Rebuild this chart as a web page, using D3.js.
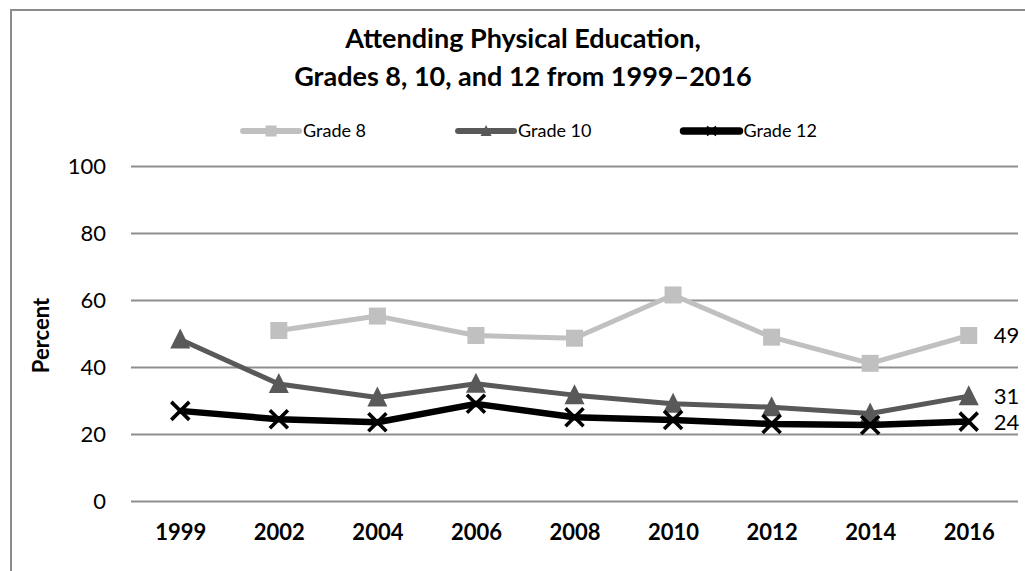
<!DOCTYPE html>
<html>
<head>
<meta charset="utf-8">
<script src="https://cdn.jsdelivr.net/npm/d3@7"></script>
<style>
  html, body { margin: 0; padding: 0; background: #fff; }
  svg { display: block; }
  text { font-family: Lato, "Open Sans", sans-serif; }
</style>
</head>
<body>
<svg id="chart" width="1025" height="571"></svg>
<script>
// ---- data ----
const years = ["1999", "2002", "2004", "2006", "2008", "2010", "2012", "2014", "2016"];
const grade8  = [null, 50.9, 55.2, 49.4, 48.6, 61.5, 48.9, 41.1, 49.4];
const grade10 = [48.2, 34.9, 30.9, 35.0, 31.6, 29.0, 28.0, 26.1, 31.3];
const grade12 = [26.9, 24.4, 23.5, 29.0, 25.0, 24.2, 23.0, 22.7, 23.7];
const seriesNames = ["Grade 8", "Grade 10", "Grade 12"];
const yTicks = [0, 20, 40, 60, 80, 100];
const titleLines = ["Attending Physical Education,", "Grades 8, 10, and 12 from 1999\u20132016"];
const yAxisTitle = "Percent";

// ---- styles ----
const styles = [
  { color: "#c0c0c0", width: 5, marker: "square" },
  { color: "#595959", width: 5, marker: "triangle" },
  { color: "#000000", width: 6.5, marker: "x" }
];

const svg = d3.select("#chart");

// outer chart border (extends past right/bottom edges)
svg.append("rect")
  .attr("x", 11).attr("y", 10)
  .attr("width", 1100).attr("height", 700)
  .attr("fill", "#fff")
  .attr("stroke", "#8c8c8c").attr("stroke-width", 2);

const plot = { left: 131, right: 1018, top: 166, bottom: 501 };

const x = d3.scalePoint().domain(years).range([plot.left, plot.right]).padding(0.5);
const y = d3.scaleLinear().domain([0, 100]).range([plot.bottom, plot.top]);

// gridlines + y labels via axis
const yAxis = d3.axisLeft(y).tickValues(yTicks).tickSize(-(plot.right - plot.left)).tickPadding(25);
const gy = svg.append("g").attr("transform", `translate(${plot.left},0)`).call(yAxis);
gy.select(".domain").remove();
gy.selectAll(".tick line").attr("stroke", "#8e8e8e").attr("stroke-width", 2);
gy.selectAll(".tick text")
  .attr("font-family", "Lato, sans-serif")
  .attr("font-size", 22).attr("fill", "#000");

// x labels via axis
const xAxis = d3.axisBottom(x).tickSize(0).tickPadding(23);
const gx = svg.append("g").attr("transform", `translate(0,${plot.bottom})`).call(xAxis);
gx.select(".domain").remove();
gx.selectAll(".tick text")
  .attr("font-family", "Lato, sans-serif")
  .attr("font-size", 22).attr("font-weight", "bold").attr("fill", "#000");

// y axis title
svg.append("text")
  .attr("transform", `translate(49,${(plot.top + plot.bottom) / 2 + 2}) rotate(-90)`)
  .attr("text-anchor", "middle")
  .attr("font-size", 22).attr("font-weight", "bold")
  .text(yAxisTitle);

// title
const titleCx = 523;
svg.append("text").attr("x", titleCx).attr("y", 48)
  .attr("text-anchor", "middle").attr("font-size", 27).attr("font-weight", "bold")
  .text(titleLines[0]);
svg.append("text").attr("x", titleCx).attr("y", 86)
  .attr("text-anchor", "middle").attr("font-size", 27).attr("font-weight", "bold")
  .text(titleLines[1]);

// marker drawing
function drawMarker(g, kind, cx, cy, size, color) {
  if (kind === "square") {
    g.append("rect").attr("x", cx - size / 2).attr("y", cy - size / 2)
      .attr("width", size).attr("height", size).attr("fill", color);
  } else if (kind === "triangle") {
    const h = size;
    g.append("path")
      .attr("d", `M${cx},${cy - h * 0.55} L${cx + size / 2},${cy + h * 0.45} L${cx - size / 2},${cy + h * 0.45} Z`)
      .attr("fill", color);
  } else {
    const s = size / 2;
    g.append("path")
      .attr("d", `M${cx - s},${cy - s} L${cx + s},${cy + s} M${cx - s},${cy + s} L${cx + s},${cy - s}`)
      .attr("stroke", color).attr("stroke-width", Math.max(2, size * 0.2)).attr("fill", "none");
  }
}

const allSeries = [grade8, grade10, grade12];
const line = d3.line()
  .defined(d => d.v !== null)
  .x(d => x(d.year)).y(d => y(d.v));

const markerSize = [17, 20, 18];
allSeries.forEach((vals, i) => {
  const st = styles[i];
  const pts = years.map((yr, j) => ({ year: yr, v: vals[j] }));
  const g = svg.append("g");
  g.append("path").datum(pts)
    .attr("d", line)
    .attr("fill", "none").attr("stroke", st.color)
    .attr("stroke-width", st.width).attr("stroke-linejoin", "round");
  pts.filter(p => p.v !== null).forEach(p => {
    drawMarker(g, st.marker, x(p.year), y(p.v), markerSize[i], st.color);
  });
});

// end labels
const fmt = d3.format(".0f");
allSeries.forEach((vals, i) => {
  const last = vals[vals.length - 1];
  svg.append("text")
    .attr("x", x(years[years.length - 1]) + 25)
    .attr("y", y(last)).attr("dy", "0.36em")
    .attr("font-size", 22).attr("fill", "#000")
    .text(fmt(last));
});

// legend
const legY = 131;
const lineLen = 56, gapText = 4, itemGap = 92;
const leg = svg.append("g");
const tmp = seriesNames.map(n => {
  const t = leg.append("text").attr("font-size", 18).text(n);
  const w = t.node().getComputedTextLength();
  t.remove();
  return w;
});
const total = tmp.reduce((a, w) => a + lineLen + gapText + w, 0) + itemGap * (seriesNames.length - 1);
let cx = 530 - total / 2;
seriesNames.forEach((n, i) => {
  const st = styles[i];
  leg.append("line").attr("x1", cx).attr("x2", cx + lineLen)
    .attr("y1", legY).attr("y2", legY)
    .attr("stroke", st.color).attr("stroke-width", st.width + 1).attr("stroke-linecap", "round");
  drawMarker(leg, st.marker, cx + lineLen / 2, legY, i === 2 ? 9 : 11, st.color);
  leg.append("text").attr("x", cx + lineLen + gapText).attr("y", legY).attr("dy", "0.35em")
    .attr("font-size", 18).attr("fill", "#000").text(n);
  cx += lineLen + gapText + tmp[i] + itemGap;
});
</script>
</body>
</html>
